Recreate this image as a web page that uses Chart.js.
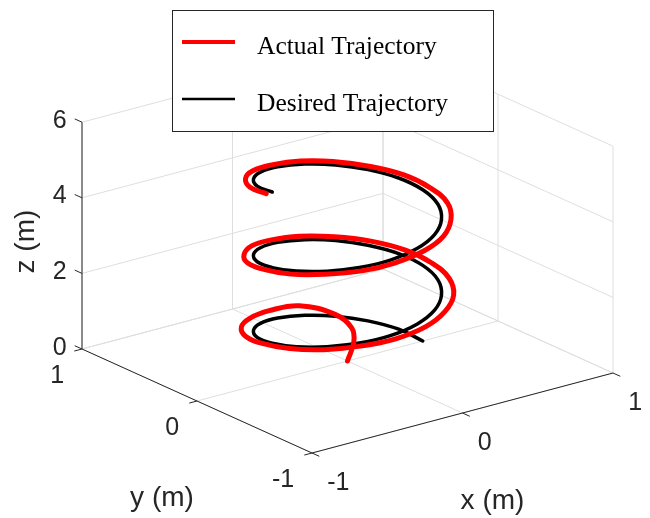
<!DOCTYPE html>
<html lang="en">
<head>
    <meta charset="UTF-8">
    <title>Helix Trajectory Tracking</title>
    <script src="https://cdn.jsdelivr.net/npm/chart.js"></script>
    <style>
        body {
            margin: 0;
            background-color: #fff;
        }
        .chart-container {
            position: relative;
            width: 650px;
            height: 518px;
        }
    </style>
</head>
<body>
    <div class="chart-container">
        <canvas id="trajectoryChart" width="650" height="518"></canvas>
    </div>

    <script>
        // Desired helix, one sample every 20 degrees (metres)
        const desiredX = [0.50, 0.47, 0.38, 0.25, 0.09, -0.09, -0.25, -0.38, -0.47, -0.50, -0.47, -0.38, -0.25, -0.09, 0.09, 0.25, 0.38, 0.47,
                          0.50, 0.47, 0.38, 0.25, 0.09, -0.09, -0.25, -0.38, -0.47, -0.50, -0.47, -0.38, -0.25, -0.09, 0.09, 0.25, 0.38, 0.47,
                          0.50, 0.47, 0.38, 0.25, 0.09, -0.09, -0.25, -0.38, -0.47, -0.50];
        const desiredY = [0.00, 0.17, 0.32, 0.43, 0.49, 0.49, 0.43, 0.32, 0.17, 0.00, -0.17, -0.32, -0.43, -0.49, -0.49, -0.43, -0.32, -0.17,
                          0.00, 0.17, 0.32, 0.43, 0.49, 0.49, 0.43, 0.32, 0.17, 0.00, -0.17, -0.32, -0.43, -0.49, -0.49, -0.43, -0.32, -0.17,
                          0.00, 0.17, 0.32, 0.43, 0.49, 0.49, 0.43, 0.32, 0.17, 0.00];
        const desiredZ = [0.00, 0.11, 0.22, 0.33, 0.44, 0.56, 0.67, 0.78, 0.89, 1.00, 1.11, 1.22, 1.33, 1.44, 1.56, 1.67, 1.78, 1.89,
                          2.00, 2.11, 2.22, 2.33, 2.44, 2.56, 2.67, 2.78, 2.89, 3.00, 3.11, 3.22, 3.33, 3.44, 3.56, 3.67, 3.78, 3.89,
                          4.00, 4.11, 4.22, 4.33, 4.44, 4.56, 4.67, 4.78, 4.89, 5.00];

        // Measured trajectory: take-off near the origin, then a slightly wider helix
        const actualX = [0.00, 0.08, 0.15, 0.17,
                         0.10, -0.10, -0.28, -0.43, -0.53, -0.56, -0.53, -0.43, -0.28, -0.10, 0.10, 0.28, 0.43, 0.53,
                         0.56, 0.53, 0.43, 0.28, 0.10,
                         -0.10, -0.27, -0.42, -0.52, -0.55, -0.52, -0.42, -0.27, -0.10, 0.10, 0.27, 0.42, 0.52,
                         0.55, 0.52, 0.42, 0.27, 0.10,
                         -0.09, -0.27, -0.41, -0.51, -0.54];
        const actualY = [0.00, 0.05, 0.16, 0.33,
                         0.55, 0.55, 0.48, 0.36, 0.19, 0.00, -0.19, -0.36, -0.48, -0.55, -0.55, -0.48, -0.36, -0.19,
                         0.00, 0.19, 0.36, 0.48, 0.55,
                         0.54, 0.48, 0.35, 0.19, 0.00, -0.19, -0.35, -0.48, -0.54, -0.54, -0.48, -0.35, -0.19,
                         0.00, 0.19, 0.35, 0.48, 0.54,
                         0.53, 0.47, 0.35, 0.18, 0.00];
        const actualZ = [0.00, 0.35, 0.50, 0.60,
                         0.60, 0.68, 0.77, 0.86, 0.95, 1.05, 1.15, 1.25, 1.35, 1.45, 1.56, 1.67, 1.78, 1.89,
                         2.00, 2.11, 2.22, 2.33, 2.44,
                         2.56, 2.67, 2.78, 2.89, 3.00, 3.11, 3.22, 3.33, 3.44, 3.56, 3.67, 3.78, 3.89,
                         4.00, 4.11, 4.22, 4.33, 4.44,
                         4.56, 4.67, 4.78, 4.89, 5.00];

        const xTicks = [-1, 0, 1];
        const yTicks = [-1, 0, 1];
        const zTicks = [0, 2, 4, 6];
        const seriesNames = ['Actual Trajectory', 'Desired Trajectory'];
        const axisTitles = ['x (m)', 'y (m)', 'z (m)'];

        // Oblique view (az -37.5, el 30): page position of 3D point, in canvas units
        const view = { ox: 347.5, oy: 361, xx: 150.5, xy: -40, yx: -115, yy: -52, zy: -37.8 };

        function project(x, y, z) {
            return {
                x: view.ox + view.xx * x + view.yx * y,
                y: view.oy + view.xy * x + view.yy * y + view.zy * z
            };
        }

        function toPoints(xs, ys, zs) {
            return xs.map((x, i) => project(x, ys[i], zs[i]));
        }

        const tickFont = '25px "Liberation Sans", Arial, sans-serif';
        const titleFont = '28px "Liberation Sans", Arial, sans-serif';
        const textColor = '#262626';

        // Floor, back walls, axis lines, ticks and labels
        const axesBox = {
            id: 'axesBox',
            beforeDatasetsDraw(chart) {
                const ctx = chart.ctx;
                const sx = chart.scales.x;
                const sy = chart.scales.y;
                const pt = (x, y, z) => {
                    const p = project(x, y, z);
                    return [sx.getPixelForValue(p.x), sy.getPixelForValue(p.y)];
                };
                const seg = (a, b) => { ctx.moveTo(a[0], a[1]); ctx.lineTo(b[0], b[1]); };
                const x0 = xTicks[0], x1 = xTicks[xTicks.length - 1];
                const y0 = yTicks[0], y1 = yTicks[yTicks.length - 1];
                const z0 = zTicks[0], z1 = zTicks[zTicks.length - 1];

                ctx.save();
                ctx.lineWidth = 1;
                ctx.strokeStyle = '#dedede';
                ctx.beginPath();
                xTicks.forEach(x => { seg(pt(x, y0, z0), pt(x, y1, z0)); seg(pt(x, y1, z0), pt(x, y1, z1)); });
                yTicks.forEach(y => { seg(pt(x0, y, z0), pt(x1, y, z0)); seg(pt(x1, y, z0), pt(x1, y, z1)); });
                zTicks.forEach(z => { seg(pt(x0, y1, z), pt(x1, y1, z)); seg(pt(x1, y1, z), pt(x1, y0, z)); });
                ctx.stroke();

                // axis lines
                ctx.strokeStyle = textColor;
                ctx.beginPath();
                seg(pt(x0, y0, z0), pt(x1, y0, z0));
                seg(pt(x0, y1, z0), pt(x0, y0, z0));
                seg(pt(x0, y1, z0), pt(x0, y1, z1));

                const unit = (a, b) => {
                    const dx = b[0] - a[0], dy = b[1] - a[1];
                    const len = Math.hypot(dx, dy);
                    return [dx / len * 8, dy / len * 8];
                };
                const xDir = unit(pt(0, 0, 0), pt(0, -1, 0));
                const yDir = unit(pt(0, 0, 0), pt(-1, 0, 0));
                const zDir = unit(pt(0, 0, 0), pt(0, 1, 0));
                const ends = { x: [], y: [], z: [] };
                xTicks.forEach(x => {
                    const p = pt(x, y0, z0);
                    const e = [p[0] + xDir[0], p[1] + xDir[1]];
                    seg(p, e); ends.x.push(e);
                });
                yTicks.forEach(y => {
                    const p = pt(x0, y, z0);
                    const e = [p[0] + yDir[0], p[1] + yDir[1]];
                    seg(p, e); ends.y.push(e);
                });
                zTicks.forEach(z => {
                    const p = pt(x0, y1, z);
                    const e = [p[0] + zDir[0], p[1] + zDir[1]];
                    seg(p, e); ends.z.push(e);
                });
                ctx.stroke();

                ctx.fillStyle = textColor;
                ctx.font = tickFont;
                ctx.textBaseline = 'middle';
                ctx.textAlign = 'left';
                xTicks.forEach((v, i) => ctx.fillText(String(v), ends.x[i][0] + 8, ends.x[i][1] + 27));
                ctx.textAlign = 'right';
                yTicks.forEach((v, i) => ctx.fillText(String(v), ends.y[i][0] - 10, ends.y[i][1] + 25));
                zTicks.forEach((v, i) => ctx.fillText(String(v), ends.z[i][0] - 8, ends.z[i][1] + 2));

                // axis titles
                ctx.font = titleFont;
                ctx.textAlign = 'center';
                const xm = pt(0, y0, z0), ym = pt(x0, 0, z0), zm = pt(x0, y1, (z0 + z1) / 2);
                ctx.fillText(axisTitles[0], xm[0] + 30, xm[1] + 88);
                ctx.fillText(axisTitles[1], ym[0] - 35, ym[1] + 97);
                ctx.translate(zm[0] - 56, zm[1] + 6);
                ctx.rotate(-Math.PI / 2);
                ctx.fillText(axisTitles[2], 0, 0);
                ctx.restore();
            }
        };

        // Boxed legend in the upper middle
        const boxLegend = {
            id: 'boxLegend',
            afterDatasetsDraw(chart) {
                const ctx = chart.ctx;
                const left = 172, top = 10, width = 321, height = 121;
                ctx.save();
                ctx.fillStyle = '#fff';
                ctx.fillRect(left, top, width, height);
                ctx.strokeStyle = '#262626';
                ctx.lineWidth = 1;
                ctx.strokeRect(left + 0.5, top + 0.5, width, height);
                ctx.font = '25.5px "Liberation Serif", "Times New Roman", serif';
                ctx.textBaseline = 'alphabetic';
                ctx.textAlign = 'left';
                chart.data.datasets.forEach((ds, i) => {
                    const y = top + 32 + i * 57;
                    ctx.strokeStyle = ds.borderColor;
                    ctx.lineWidth = ds.borderWidth - 1;
                    ctx.beginPath();
                    ctx.moveTo(left + 10, y);
                    ctx.lineTo(left + 63, y);
                    ctx.stroke();
                    ctx.fillStyle = '#000';
                    ctx.fillText(ds.label, left + 85, y + 12);
                });
                ctx.restore();
            }
        };

        const chartCtx = document.getElementById('trajectoryChart').getContext('2d');
        const trajectoryChart = new Chart(chartCtx, {
            type: 'scatter',
            data: {
                datasets: [{
                    label: seriesNames[0],
                    data: toPoints(actualX, actualY, actualZ),
                    showLine: true,
                    borderColor: '#ff0000',
                    borderWidth: 5,
                    pointRadius: 0,
                    tension: 0.4,
                    borderCapStyle: 'round',
                    borderJoinStyle: 'round'
                }, {
                    label: seriesNames[1],
                    data: toPoints(desiredX, desiredY, desiredZ),
                    showLine: true,
                    borderColor: '#000000',
                    borderWidth: 3.5,
                    pointRadius: 0,
                    tension: 0.4,
                    borderCapStyle: 'round',
                    borderJoinStyle: 'round'
                }]
            },
            options: {
                responsive: false,
                animation: false,
                events: [],
                clip: false,
                layout: { padding: 0 },
                scales: {
                    x: { type: 'linear', min: 0, max: 650, display: false },
                    y: { type: 'linear', min: 0, max: 518, reverse: true, display: false }
                },
                plugins: {
                    legend: { display: false },
                    tooltip: { enabled: false }
                }
            },
            plugins: [axesBox, boxLegend]
        });
    </script>
</body>
</html>
